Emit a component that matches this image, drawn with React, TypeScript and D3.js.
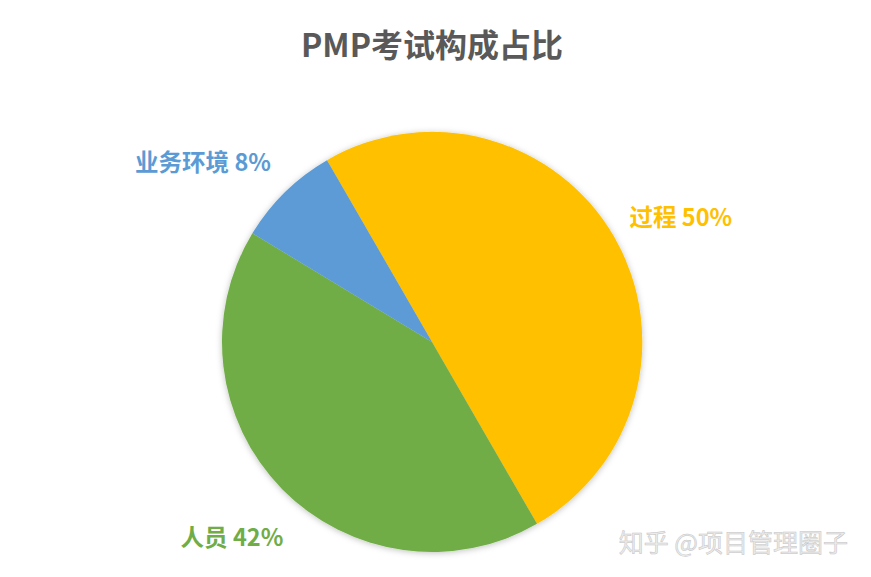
import { useEffect, useRef } from 'react';
import * as d3 from 'd3';

const categories = ['过程', '人员', '业务环境'];
const values = [50, 42, 8];
const colors = ['#FFC000', '#70AD47', '#5B9BD5'];
const title = 'PMP考试构成占比';
const watermark = '知乎 @项目管理圈子';

export default function App() {
  const svgRef = useRef<SVGSVGElement>(null);
  const width = 871;
  const height = 577;

  useEffect(() => {
    if (!svgRef.current) return;
    const svg = d3.select(svgRef.current);
    svg.selectAll('*').remove();

    const cx = 432;
    const cy = 342;
    const radius = 210;
    const font = '"Noto Sans CJK SC", "Noto Sans", sans-serif';

    const defs = svg.append('defs');
    const filter = defs.append('filter')
      .attr('id', 'shadow')
      .attr('x', '-20%').attr('y', '-20%')
      .attr('width', '140%').attr('height', '140%');
    filter.append('feDropShadow')
      .attr('dx', 0).attr('dy', 1)
      .attr('stdDeviation', 3)
      .attr('flood-color', '#000')
      .attr('flood-opacity', 0.25);

    svg.append('rect').attr('width', width).attr('height', height).attr('fill', '#fff');

    // Title
    svg.append('text')
      .attr('x', cx)
      .attr('y', 57)
      .attr('text-anchor', 'middle')
      .attr('font-family', font)
      .attr('font-weight', 'bold')
      .attr('font-size', 32)
      .attr('fill', '#595959')
      .text(title);

    const data = categories.map((c, i) => ({ name: c, value: values[i], color: colors[i] }));
    const start = (-30 * Math.PI) / 180;
    const pie = d3.pie<typeof data[0]>()
      .value(d => d.value)
      .sort(null)
      .startAngle(start)
      .endAngle(start + 2 * Math.PI);
    const arcs = pie(data);

    const arc = d3.arc<d3.PieArcDatum<typeof data[0]>>()
      .innerRadius(0)
      .outerRadius(radius);

    const g = svg.append('g').attr('transform', `translate(${cx},${cy})`);
    g.append('g')
      .attr('filter', 'url(#shadow)')
      .selectAll('path')
      .data(arcs)
      .enter().append('path')
      .attr('d', arc)
      .attr('fill', d => d.data.color);

    // Labels placed outside at mid-angle
    const nudge = [3.5, 0, -7.5];
    const labelR = [278, 280, 291];
    g.selectAll('.lbl')
      .data(arcs)
      .enter().append('text')
      .attr('class', 'lbl')
      .attr('x', (d, i) => {
        const a = (d.startAngle + d.endAngle) / 2 + (nudge[i] * Math.PI) / 180;
        return labelR[i] * Math.sin(a);
      })
      .attr('y', (d, i) => {
        const a = (d.startAngle + d.endAngle) / 2 + (nudge[i] * Math.PI) / 180;
        return -labelR[i] * Math.cos(a);
      })
      .attr('dy', '0.35em')
      .attr('text-anchor', 'middle')
      .attr('font-family', font)
      .attr('font-weight', 'bold')
      .attr('font-size', 23.5)
      .attr('fill', d => d.data.color)
      .text(d => `${d.data.name} ${d.data.value}%`);

    // Watermark
    svg.append('text')
      .attr('x', 848)
      .attr('y', 543)
      .attr('dy', '0.35em')
      .attr('text-anchor', 'end')
      .attr('font-family', font)
      .attr('font-size', 25)
      .attr('fill', '#ececec')
      .attr('stroke', '#c4c4c4')
      .attr('stroke-width', 0.5)
      .text(watermark);
  }, []);

  return (
    <svg
      ref={svgRef}
      width={width}
      height={height}
      style={{ position: 'fixed', top: 0, left: 0, display: 'block' }}
    />
  );
}
